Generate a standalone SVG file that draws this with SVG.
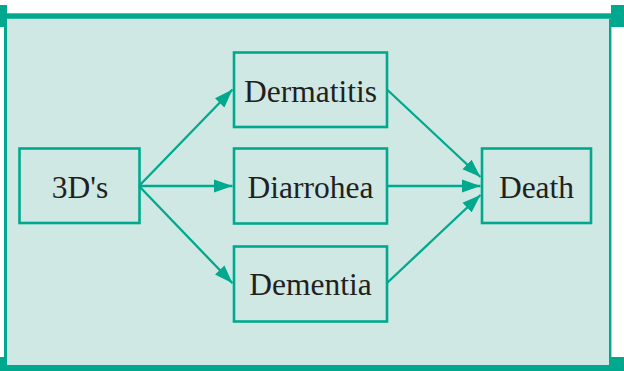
<svg xmlns="http://www.w3.org/2000/svg" width="624" height="371" viewBox="0 0 624 371">
<style>
.frame{fill:#00a88e}
.node rect{fill:none;stroke:#00a88e;stroke-width:2.6}
.node text{fill:#231f20;text-anchor:middle}
.edge{stroke:#00a88e;stroke-width:2.3;fill:none;marker-end:url(#ah)}
</style>
<defs>
<marker id="ah" markerUnits="userSpaceOnUse" markerWidth="19" markerHeight="14" refX="18.5" refY="7" orient="auto" viewBox="0 0 19 14">
<path d="M0,0.4 L18.5,7 L0,13.6 Z" fill="#00a88e"/>
</marker>
</defs>
<g id="frame">
<rect x="7" y="19" width="602" height="346" fill="#cfe8e4"/>
<rect class="frame" x="7" y="13.3" width="604" height="5.5"/>
<rect class="frame" x="7" y="365" width="604" height="6"/>
<rect class="frame" x="4" y="19" width="3" height="346"/>
<rect class="frame" x="609" y="19" width="2.4" height="346"/>
<rect class="frame" x="0" y="5" width="7" height="22"/>
<rect class="frame" x="611" y="5" width="13" height="22"/>
<rect class="frame" x="0" y="357" width="7" height="14"/>
<rect class="frame" x="611" y="357" width="13" height="14"/>
</g>
<g id="connectors">
<line class="edge" x1="139" y1="186" x2="232.5" y2="89.5"/>
<line class="edge" x1="139" y1="186" x2="232.5" y2="186"/>
<line class="edge" x1="139" y1="186" x2="232.5" y2="283.3"/>
<line class="edge" x1="387" y1="89.5" x2="480.5" y2="177"/>
<line class="edge" x1="387" y1="186" x2="480.5" y2="186"/>
<line class="edge" x1="387" y1="283" x2="480.5" y2="195"/>
</g>
<g font-family="'Liberation Serif', serif" font-size="31.5">
<g id="n3ds" class="node">
<rect x="19.5" y="148.5" width="120" height="74.5"/>
<text x="80" y="198.3">3D's</text>
</g>
<g id="dermatitis" class="node">
<rect x="234" y="52.5" width="153" height="74.5"/>
<text x="310.5" y="101.7">Dermatitis</text>
</g>
<g id="diarrohea" class="node">
<rect x="234" y="148.5" width="153" height="75"/>
<text x="310.5" y="198.3">Diarrohea</text>
</g>
<g id="dementia" class="node">
<rect x="234" y="246.5" width="153" height="75"/>
<text x="310.5" y="295">Dementia</text>
</g>
<g id="death" class="node">
<rect x="482" y="148.5" width="109" height="74.5"/>
<text x="536.5" y="198.3">Death</text>
</g>
</g>
</svg>
